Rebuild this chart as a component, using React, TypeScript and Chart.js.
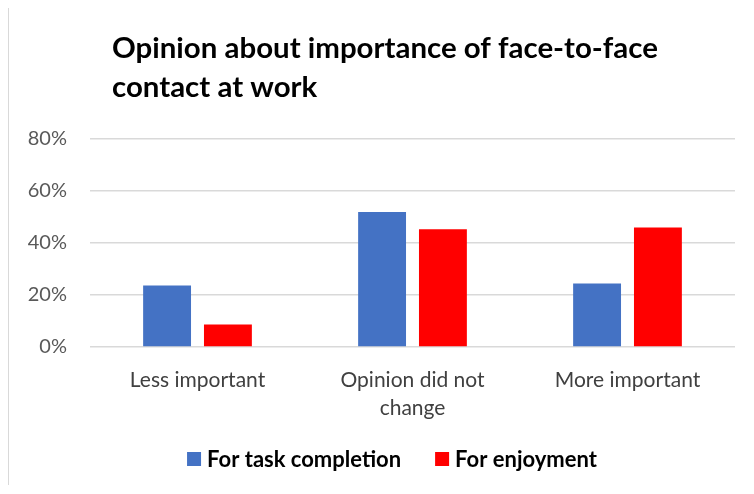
import React, { useEffect, useRef } from "react";
import { Chart, registerables } from "chart.js";

Chart.register(...registerables);

const titleLines = ["Opinion about importance of face-to-face", "contact at work"];
const categories: (string | string[])[] = ["Less important", ["Opinion did not", "change"], "More important"];
const seriesNames = ["For task completion", "For enjoyment"];
const taskCompletion = [23.7, 51.9, 24.4];
const enjoyment = [8.7, 45.3, 46.0];
const yTicks = [0, 20, 40, 60, 80];

const FONT = "Lato, 'Noto Sans', sans-serif";

const titlePlugin = {
  id: "leftTitle",
  afterDraw(chart: any) {
    const ctx = chart.ctx;
    ctx.save();
    let size = 28;
    ctx.font = `bold ${size}px ${FONT}`;
    const w = ctx.measureText(titleLines[0]).width;
    size = size * (546 / w);
    ctx.font = `bold ${size}px ${FONT}`;
    ctx.fillStyle = "#000000";
    ctx.textAlign = "left";
    ctx.textBaseline = "alphabetic";
    ctx.fillText(titleLines[0], 103, 50);
    ctx.fillText(titleLines[1], 103, 89);
    ctx.restore();
  },
};

const legendPlugin = {
  id: "customLegend",
  afterDraw(chart: any) {
    const ctx = chart.ctx;
    const box = 14;
    const gap = 6;
    const itemGap = 34;
    const centerX = 383;
    const centerY = 451;
    ctx.save();
    ctx.font = `bold 22px ${FONT}`;
    const items = chart.data.datasets.map((ds: any) => ({
      text: ds.label,
      color: ds.backgroundColor,
      w: ctx.measureText(ds.label).width,
    }));
    const total = items.reduce((a: number, it: any) => a + box + gap + it.w, 0) + itemGap * (items.length - 1);
    let x = centerX - total / 2;
    ctx.textBaseline = "middle";
    ctx.textAlign = "left";
    items.forEach((it: any) => {
      ctx.fillStyle = it.color;
      ctx.fillRect(x, centerY - box / 2, box, box);
      ctx.fillStyle = "#000000";
      ctx.fillText(it.text, x + box + gap, centerY + 1);
      x += box + gap + it.w + itemGap;
    });
    ctx.restore();
  },
};

export default function App() {
  const ref = useRef<HTMLCanvasElement>(null);
  useEffect(() => {
    if (!ref.current) return;
    const chart = new Chart(ref.current, {
      type: "bar",
      data: {
        labels: categories,
        datasets: [
          { label: seriesNames[0], data: taskCompletion, backgroundColor: "#4472C4", categoryPercentage: 0.566, barPercentage: 0.787 },
          { label: seriesNames[1], data: enjoyment, backgroundColor: "#FF0000", categoryPercentage: 0.566, barPercentage: 0.787 },
        ],
      },
      options: {
        animation: false,
        responsive: true,
        maintainAspectRatio: false,
        layout: { padding: { top: 131, right: 11, left: 0, bottom: 48 } },
        plugins: {
          title: { display: false },
          tooltip: { enabled: false },
          legend: { display: false },
        },
        scales: {
          x: {
            grid: { display: false },
            border: { display: false },
            ticks: { color: "#404040", padding: 11, font: { family: FONT, size: 21, lineHeight: 1.333 } },
            afterFit: (s: any) => { s.height = 90; },
          },
          y: {
            min: 0,
            max: 80,
            afterBuildTicks: (s: any) => { s.ticks = yTicks.map((v) => ({ value: v })); },
            grid: { color: "#d9d9d9", lineWidth: 1.5, drawTicks: false },
            border: { display: false },
            ticks: { color: "#595959", padding: 23, font: { family: FONT, size: 20 }, callback: (v: any) => `${v}%` },
            afterFit: (s: any) => { s.width = 81; },
          },
        },
      },
      plugins: [titlePlugin, legendPlugin],
    });
    return () => chart.destroy();
  }, []);
  return (
    <div style={{ position: "relative", height: 478, marginTop: -1, boxSizing: "border-box", borderTop: "1px solid #d9d9d9", borderLeft: "1px solid #d9d9d9" }}>
      <canvas ref={ref} />
    </div>
  );
}
